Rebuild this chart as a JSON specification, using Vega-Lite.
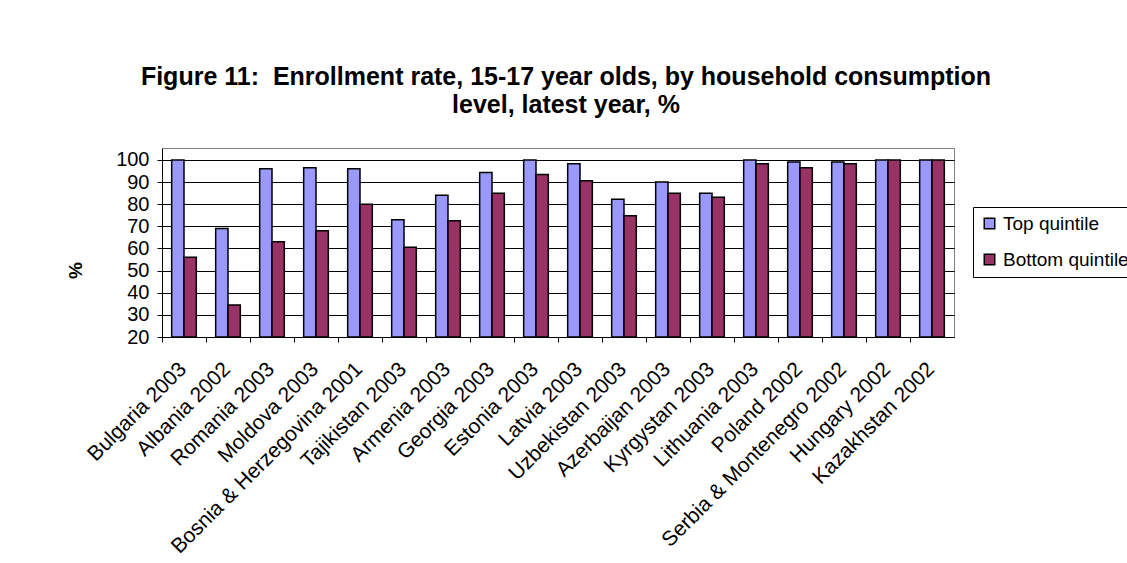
{
  "$schema": "https://vega.github.io/schema/vega-lite/v6.json",
  "width": 792,
  "height": 189,
  "autosize": {"type": "none"},
  "padding": {"left": 162, "top": 148, "right": 173, "bottom": 226},
  "background": "white",
  "title": {
    "text": ["Figure 11:\u00a0 Enrollment rate, 15-17 year olds, by household consumption", "level, latest year, %"],
    "font": "Liberation Sans",
    "fontSize": 25,
    "fontWeight": "bold",
    "color": "black",
    "anchor": "middle",
    "dx": 8,
    "offset": 30,
    "lineHeight": 28
  },
  "data": {
    "values": [
      {"country": "Bulgaria 2003", "group": "Top quintile", "value": 100},
      {"country": "Bulgaria 2003", "group": "Bottom quintile", "value": 56},
      {"country": "Albania 2002", "group": "Top quintile", "value": 69},
      {"country": "Albania 2002", "group": "Bottom quintile", "value": 34.5},
      {"country": "Romania 2003", "group": "Top quintile", "value": 96},
      {"country": "Romania 2003", "group": "Bottom quintile", "value": 63},
      {"country": "Moldova 2003", "group": "Top quintile", "value": 96.5},
      {"country": "Moldova 2003", "group": "Bottom quintile", "value": 68},
      {"country": "Bosnia & Herzegovina 2001", "group": "Top quintile", "value": 96},
      {"country": "Bosnia & Herzegovina 2001", "group": "Bottom quintile", "value": 80},
      {"country": "Tajikistan 2003", "group": "Top quintile", "value": 73},
      {"country": "Tajikistan 2003", "group": "Bottom quintile", "value": 60.5},
      {"country": "Armenia 2003", "group": "Top quintile", "value": 84},
      {"country": "Armenia 2003", "group": "Bottom quintile", "value": 72.5},
      {"country": "Georgia 2003", "group": "Top quintile", "value": 94.3},
      {"country": "Georgia 2003", "group": "Bottom quintile", "value": 85},
      {"country": "Estonia 2003", "group": "Top quintile", "value": 100},
      {"country": "Estonia 2003", "group": "Bottom quintile", "value": 93.4},
      {"country": "Latvia 2003", "group": "Top quintile", "value": 98.3},
      {"country": "Latvia 2003", "group": "Bottom quintile", "value": 90.6},
      {"country": "Uzbekistan 2003", "group": "Top quintile", "value": 82.2},
      {"country": "Uzbekistan 2003", "group": "Bottom quintile", "value": 74.8},
      {"country": "Azerbaijan 2003", "group": "Top quintile", "value": 90},
      {"country": "Azerbaijan 2003", "group": "Bottom quintile", "value": 85},
      {"country": "Kyrgystan 2003", "group": "Top quintile", "value": 85},
      {"country": "Kyrgystan 2003", "group": "Bottom quintile", "value": 83.1},
      {"country": "Lithuania 2003", "group": "Top quintile", "value": 100},
      {"country": "Lithuania 2003", "group": "Bottom quintile", "value": 98.3},
      {"country": "Poland 2002", "group": "Top quintile", "value": 99.1},
      {"country": "Poland 2002", "group": "Bottom quintile", "value": 96.5},
      {"country": "Serbia & Montenegro 2002", "group": "Top quintile", "value": 99.1},
      {"country": "Serbia & Montenegro 2002", "group": "Bottom quintile", "value": 98.3},
      {"country": "Hungary 2002", "group": "Top quintile", "value": 100},
      {"country": "Hungary 2002", "group": "Bottom quintile", "value": 100},
      {"country": "Kazakhstan 2002", "group": "Top quintile", "value": 100},
      {"country": "Kazakhstan 2002", "group": "Bottom quintile", "value": 100}
    ]
  },
  "mark": {"type": "bar", "stroke": "black", "strokeWidth": 1.5},
  "encoding": {
    "x": {
      "field": "country",
      "type": "nominal",
      "sort": null,
      "title": null,
      "scale": {"paddingInner": 0.44, "paddingOuter": 0.22},
      "axis": {
        "labelAngle": -45,
        "labelAlign": "right",
        "labelBaseline": "top",
        "labelFont": "Liberation Sans",
        "labelFontSize": 21,
        "labelColor": "black",
        "labelPadding": 16,
        "labelOffset": 13,
        "tickOffset": -22,
        "tickSize": 5,
        "tickColor": "black",
        "domainColor": "black",
        "labelOverlap": false,
        "labelLimit": 400
      }
    },
    "xOffset": {
      "field": "group",
      "type": "nominal",
      "sort": ["Top quintile", "Bottom quintile"],
      "scale": {"paddingInner": 0, "paddingOuter": 0}
    },
    "y": {
      "field": "value",
      "type": "quantitative",
      "title": "%",
      "scale": {"domain": [20, 105.4], "zero": false, "nice": false},
      "axis": {
        "values": [20, 30, 40, 50, 60, 70, 80, 90, 100],
        "grid": true,
        "gridColor": "black",
        "domainColor": "black",
        "tickColor": "black",
        "tickSize": 5,
        "labelFont": "Liberation Sans",
        "labelFontSize": 20,
        "labelColor": "black",
        "labelPadding": 8,
        "titleFont": "Liberation Sans",
        "titleFontSize": 19,
        "titleFontWeight": "bold",
        "titleColor": "black",
        "titleAngle": -90,
        "titleX": -87,
        "titleY": 122,
        "titleAlign": "center",
        "titleBaseline": "middle"
      }
    },
    "y2": {"datum": 20},
    "color": {
      "field": "group",
      "type": "nominal",
      "sort": ["Top quintile", "Bottom quintile"],
      "scale": {"domain": ["Top quintile", "Bottom quintile"], "range": ["#9999FF", "#993366"]},
      "legend": {
        "title": null,
        "orient": "none",
        "legendX": 811,
        "legendY": 59,
        "strokeColor": "black",
        "padding": 7,
        "symbolType": "square",
        "symbolSize": 110,
        "symbolStrokeColor": "black",
        "symbolStrokeWidth": 1.5,
        "labelFont": "Liberation Sans",
        "labelFontSize": 19,
        "labelColor": "black",
        "labelOffset": 4,
        "rowPadding": 16,
        "labelLimit": 300
      }
    }
  },
  "config": {
    "view": {"stroke": "#808080"}
  }
}
